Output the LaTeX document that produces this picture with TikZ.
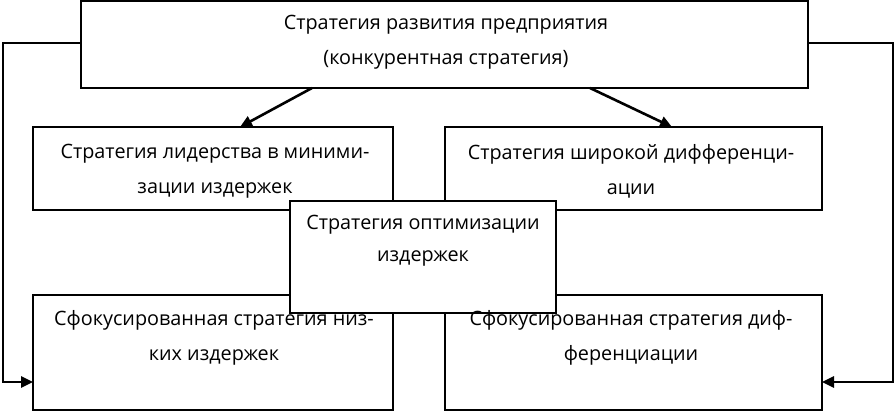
\documentclass[tikz,border=0pt]{standalone}
\usepackage{fontspec}
\setmainfont{Open Sans}
\usetikzlibrary{arrows.meta}
\begin{document}
\begin{tikzpicture}[x=1pt,y=-1pt,
  box/.style={draw,line width=2.6pt,fill=white,minimum width=#1,inner sep=0pt,outer sep=0pt},
  lbl/.style={align=center,font=\fontsize{19.8}{35}\selectfont,inner sep=0pt},
  conn/.style={line width=2.6pt,-{Triangle[length=12pt,width=11pt]}}]
\useasboundingbox (0,0) rectangle (895,412);
% boxes
\node[box=727pt,minimum height=87pt] (top) at (444.5,44.5) {};
\node[box=360pt,minimum height=83pt] (ml) at (213,168.5) {};
\node[box=377pt,minimum height=83pt] (mr) at (633.5,168.5) {};
\node[box=360pt,minimum height=115pt] (bl) at (213,352.5) {};
\node[box=377pt,minimum height=115pt] (br) at (633.5,352.5) {};
% texts
\node[lbl] (ttop) at (446,42) {Стратегия развития предприятия\\(конкурентная стратегия)};
\node[lbl] (tml) at (215,171) {Стратегия лидерства в миними-\\зации издержек};
\node[lbl] (tmr) at (631,171) {Стратегия широкой дифференци-\\ации};
% middle box on top
\node[box=266pt,minimum height=112pt] (mid) at (423,257) {};
\node[lbl,font=\fontsize{19.8}{32}\selectfont] (tmid) at (423,241) {Стратегия оптимизации\\издержек};
\node[lbl] (tbl) at (214,338) {Сфокусированная стратегия низ-\\ких издержек};
\node[lbl] (tbr) at (631,338) {Сфокусированная стратегия диф-\\ференциации};
% connectors
\coordinate (a1) at (312,88);
\coordinate (a2) at (240,127);
\coordinate (b1) at (590,88);
\coordinate (b2) at (672,127);
\draw[conn] (a1) -- (a2);
\draw[conn] (b1) -- (b2);
\coordinate (lt) at (3,43);
\coordinate (lb) at (3,382);
\coordinate (rt) at (893,43);
\coordinate (rb) at (893,382);
\draw[conn] (top.west |- lt) -- (lt) -- (lb) -- (bl.west |- lb);
\draw[conn] (top.east |- rt) -- (rt) -- (rb) -- (br.east |- rb);
\end{tikzpicture}
\end{document}
